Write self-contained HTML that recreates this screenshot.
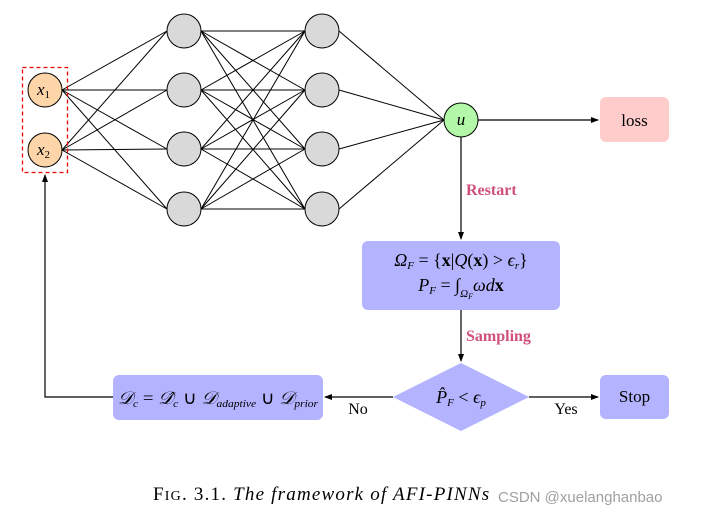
<!DOCTYPE html>
<html><head><meta charset="utf-8"><style>
body{margin:0;background:#fff;}
svg{display:block;}
text{font-family:"Liberation Serif",serif;}
</style></head><body>
<svg width="708" height="517" viewBox="0 0 708 517" xmlns="http://www.w3.org/2000/svg">
<defs><marker id="a" markerWidth="8" markerHeight="8" refX="7" refY="4" orient="auto" markerUnits="userSpaceOnUse"><path d="M0,1 L8,4 L0,7 Z" fill="#000"/></marker></defs>
<g stroke="#000" stroke-width="1">
<line x1="62" y1="90" x2="167" y2="31"/><line x1="62" y1="90" x2="167" y2="90"/><line x1="62" y1="90" x2="167" y2="149"/><line x1="62" y1="90" x2="167" y2="209"/>
<line x1="62" y1="150" x2="167" y2="31"/><line x1="62" y1="150" x2="167" y2="90"/><line x1="62" y1="150" x2="167" y2="149"/><line x1="62" y1="150" x2="167" y2="209"/>
<line x1="201" y1="31" x2="305" y2="31"/><line x1="201" y1="31" x2="305" y2="90"/><line x1="201" y1="31" x2="305" y2="149"/><line x1="201" y1="31" x2="305" y2="209"/>
<line x1="201" y1="90" x2="305" y2="31"/><line x1="201" y1="90" x2="305" y2="90"/><line x1="201" y1="90" x2="305" y2="149"/><line x1="201" y1="90" x2="305" y2="209"/>
<line x1="201" y1="149" x2="305" y2="31"/><line x1="201" y1="149" x2="305" y2="90"/><line x1="201" y1="149" x2="305" y2="149"/><line x1="201" y1="149" x2="305" y2="209"/>
<line x1="201" y1="209" x2="305" y2="31"/><line x1="201" y1="209" x2="305" y2="90"/><line x1="201" y1="209" x2="305" y2="149"/><line x1="201" y1="209" x2="305" y2="209"/>
<line x1="339" y1="31" x2="444" y2="120"/><line x1="339" y1="90" x2="444" y2="120"/><line x1="339" y1="149" x2="444" y2="120"/><line x1="339" y1="209" x2="444" y2="120"/>
</g>
<rect x="22.5" y="67.5" width="45" height="105" fill="none" stroke="#e00" stroke-width="1.3" stroke-dasharray="4,3"/>
<g stroke="#000" stroke-width="1">
<circle cx="45" cy="90" r="17" fill="#fdd5a8"/><circle cx="45" cy="150" r="17" fill="#fdd5a8"/>
<circle cx="184" cy="31" r="17" fill="#d9d9d9"/><circle cx="184" cy="90" r="17" fill="#d9d9d9"/><circle cx="184" cy="149" r="17" fill="#d9d9d9"/><circle cx="184" cy="209" r="17" fill="#d9d9d9"/>
<circle cx="322" cy="31" r="17" fill="#d9d9d9"/><circle cx="322" cy="90" r="17" fill="#d9d9d9"/><circle cx="322" cy="149" r="17" fill="#d9d9d9"/><circle cx="322" cy="209" r="17" fill="#d9d9d9"/>
<circle cx="461" cy="120" r="17" fill="#b3f7a8"/>
</g>
<text x="37" y="95" font-size="17" font-style="italic">x<tspan font-size="11" font-style="normal" dy="3">1</tspan></text>
<text x="37" y="155" font-size="17" font-style="italic">x<tspan font-size="11" font-style="normal" dy="3">2</tspan></text>
<text x="461" y="125" font-size="17" font-style="italic" text-anchor="middle">u</text>
<g stroke="#000" stroke-width="1.2" fill="none">
<line x1="478" y1="120" x2="598" y2="120" marker-end="url(#a)"/>
<line x1="461" y1="137" x2="461" y2="239" marker-end="url(#a)"/>
<line x1="461" y1="310" x2="461" y2="361" marker-end="url(#a)"/>
<line x1="529" y1="397" x2="598" y2="397" marker-end="url(#a)"/>
<line x1="393" y1="397" x2="325" y2="397" marker-end="url(#a)"/>
<polyline points="113,397 45,397 45,175" marker-end="url(#a)"/>
</g>
<rect x="600" y="97" width="69" height="45" rx="6" fill="#ffcccc"/>
<text x="634.5" y="126" font-size="17" text-anchor="middle">loss</text>
<text x="466" y="195" font-size="16" font-weight="bold" fill="#d0507a">Restart</text>
<rect x="362" y="241" width="198" height="69" rx="6" fill="#b3b3ff"/>
<text x="461" y="266" font-size="18" text-anchor="middle"><tspan font-style="italic">Ω</tspan><tspan font-size="11" font-style="italic" dy="3">F</tspan><tspan dy="-3"> = {</tspan><tspan font-weight="bold">x</tspan>|<tspan font-style="italic">Q</tspan>(<tspan font-weight="bold">x</tspan>) &gt; <tspan font-style="italic">ϵ</tspan><tspan font-size="11" font-style="italic" dy="3">r</tspan><tspan dy="-3">}</tspan></text>
<text x="461" y="291" font-size="18" text-anchor="middle"><tspan font-style="italic">P</tspan><tspan font-size="11" font-style="italic" dy="3">F</tspan><tspan dy="-3">  =  ∫</tspan><tspan font-size="11" font-style="italic" dy="6">Ω</tspan><tspan font-size="8" font-style="italic" dy="2">F</tspan><tspan dy="-8" font-style="italic">ωd</tspan><tspan font-weight="bold">x</tspan></text>
<text x="466" y="341" font-size="16" font-weight="bold" fill="#d0507a">Sampling</text>
<polygon points="461,363 529,397 461,431 393,397" fill="#b3b3ff"/>
<text x="461" y="403" font-size="18" text-anchor="middle"><tspan font-style="italic">P̂</tspan><tspan font-size="11" font-style="italic" dy="3">F</tspan><tspan dy="-3"> &lt; </tspan><tspan font-style="italic">ϵ</tspan><tspan font-size="11" font-style="italic" dy="3">p</tspan></text>
<rect x="600" y="375" width="69" height="44" rx="6" fill="#b3b3ff"/>
<text x="634.5" y="402" font-size="17" text-anchor="middle">Stop</text>
<text x="566" y="414" font-size="16" text-anchor="middle">Yes</text>
<text x="358" y="414" font-size="16" text-anchor="middle">No</text>
<rect x="113" y="375" width="210" height="45" rx="6" fill="#b3b3ff"/>
<text x="218" y="404" font-size="18" text-anchor="middle" textLength="200" lengthAdjust="spacingAndGlyphs"><tspan font-style="italic">𝒟</tspan><tspan font-size="11" font-style="italic" dy="3">c</tspan><tspan dy="-3"> = </tspan><tspan font-style="italic">𝒟̂</tspan><tspan font-size="11" font-style="italic" dy="3">c</tspan><tspan dy="-3"> ∪ </tspan><tspan font-style="italic">𝒟</tspan><tspan font-size="11" font-style="italic" dy="3">adaptive</tspan><tspan dy="-3"> ∪ </tspan><tspan font-style="italic">𝒟</tspan><tspan font-size="11" font-style="italic" dy="3">prior</tspan></text>
<text x="153" y="500" font-size="19" letter-spacing="1.2">F<tspan font-size="14">IG</tspan>. 3.1.  <tspan font-style="italic">The framework of AFI-PINNs</tspan></text>
<text x="498" y="502" font-size="15" fill="#888" style="font-family:'Liberation Sans',sans-serif" opacity="0.8">CSDN @xuelanghanbao</text>
</svg>
</body></html>
